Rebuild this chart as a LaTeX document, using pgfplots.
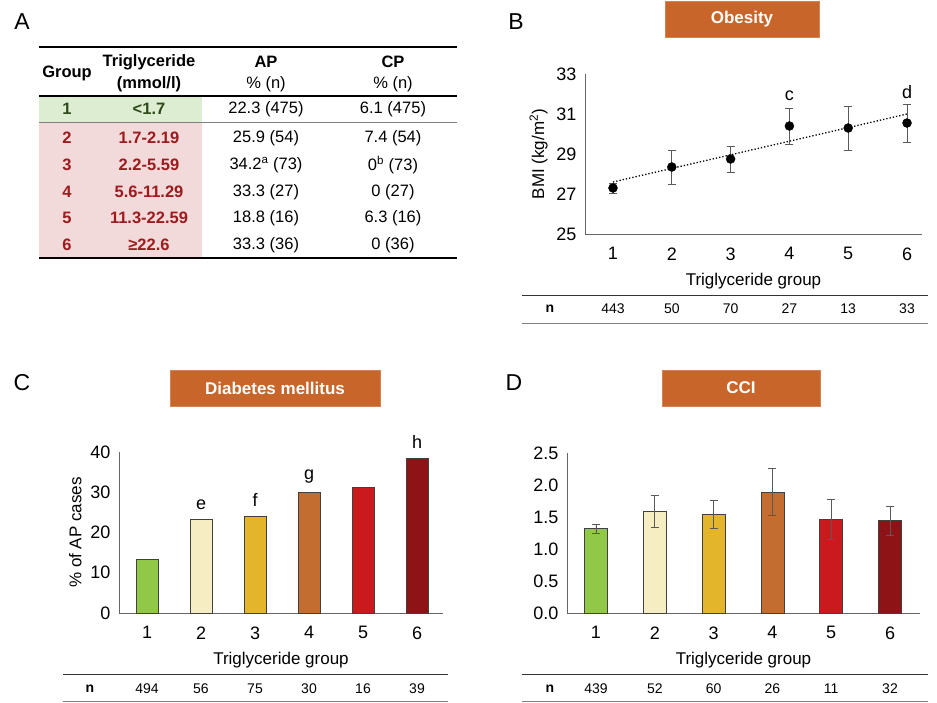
\documentclass[border=0pt]{standalone}
\usepackage{pgfplots}
\pgfplotsset{compat=1.18}
\usepackage{fontspec}
\setmainfont{Liberation Sans}
\definecolor{g1}{HTML}{92C848}
\definecolor{g2}{HTML}{F6EEC2}
\definecolor{g3}{HTML}{E3B52A}
\definecolor{g4}{HTML}{C46D31}
\definecolor{g5}{HTML}{CB1A1E}
\definecolor{g6}{HTML}{8E1316}
\definecolor{dred}{HTML}{9B1B1E}
\definecolor{dgreen}{HTML}{2E4A1A}
\definecolor{shg}{HTML}{DDEDD2}
\definecolor{shr}{HTML}{F2D9DA}
\definecolor{boxo}{HTML}{C8652A}
\pgfplotsset{
 common/.style={scale only axis, axis x line=bottom, axis y line=left,
  axis line style={draw=gray!80!black,line width=0.8pt,-}, major tick length=0pt,
  tick label style={font=\fontsize{18}{20}\selectfont},
  label style={font=\fontsize{17}{20}\selectfont},
  xticklabel style={yshift=-10pt}, yticklabel style={xshift=-5pt},
  /pgf/number format/assume math mode=true,
  xtick={1,...,6}, xlabel={Triglyceride group}, anchor=south west,
  xlabel style={yshift=-6pt}},
 ebar/.style={error bars/.cd, y dir=both, y explicit, error bar style={gray!70!black,line width=0.8pt}, error mark options={rotate=90,mark size=4pt,gray!70!black,line width=0.8pt}},
 bbar/.style={ybar, bar shift=0pt, draw=black!75, line width=0.8pt, fill=#1}
}
\begin{document}
\begin{tikzpicture}
\begin{scope}[x=1pt,y=-1pt]
\useasboundingbox (0,0) rectangle (937,702);
\tikzset{pl/.style={font=\fontsize{23}{25}\selectfont}}
\node[pl] at (22,22) {A};
\node[pl] at (516,22) {B};
\node[pl] at (22,383) {C};
\node[pl] at (514,383) {D};
% ---------- Table A
\fill[shg] (39,96) rectangle (202,122);
\fill[shr] (39,122) rectangle (202,258);
\draw[line width=1.2pt] (39,47) -- (457,47);
\draw[line width=1.2pt] (39,96) -- (457,96);
\draw[gray,line width=0.8pt] (39,122) -- (457,122);
\draw[line width=1.2pt] (39,258) -- (457,258);
\begin{scope}[every node/.style={font=\fontsize{16.5}{18}\selectfont}]
\tikzset{bf/.style={font=\fontsize{16.5}{18}\selectfont\bfseries}}
\node[bf] at (67,73) {Group};
\node[bf] at (149,62) {Triglyceride};
\node[bf] at (149,84) {(mmol/l)};
\node[bf] at (266,62) {AP};
\node at (266,84) {\% (n)};
\node[bf] at (393,62) {CP};
\node at (393,84) {\% (n)};
\node[bf,text=dgreen] at (67,109) {1};
\node[bf,text=dgreen] at (149,109) {<1.7};
\node at (266,109) {22.3 (475)};
\node at (393,109) {6.1 (475)};
\foreach \g/\t/\a/\c/\y in {2/1.7-2.19/25.9 (54)/7.4 (54)/138, 3/2.2-5.59/34.2\textsuperscript{a} (73)/0\textsuperscript{b} (73)/165, 4/5.6-11.29/33.3 (27)/0 (27)/192, 5/11.3-22.59/18.8 (16)/6.3 (16)/218, 6/≥22.6/33.3 (36)/0 (36)/245}{
 \node[bf,text=dred] at (67,\y) {\g};
 \node[bf,text=dred] at (149,\y) {\t};
 \node at (266,\y) {\a};
 \node at (393,\y) {\c};
}
\end{scope}
% ---------- title boxes
\tikzset{tb/.style={fill=boxo,draw=boxo!80!white,text=white,font=\fontsize{17}{19}\selectfont\bfseries,minimum height=36pt,inner sep=0pt}}
\node[tb,minimum width=154pt] at (742,19) {Obesity};
\node[tb,minimum width=210pt] at (275,388) {Diabetes mellitus};
\node[tb,minimum width=158pt] at (741,388) {CCI};
% ---------- n rows
\tikzset{nn/.style={font=\fontsize{14}{16}\selectfont}}
\draw[black!80,line width=0.8pt] (522,295) -- (928,295);
\draw[gray,line width=0.6pt] (522,323) -- (928,323);
\node[nn,font=\fontsize{14}{16}\selectfont\bfseries] at (550,309) {n};
\foreach \v [count=\i] in {443,50,70,27,13,33} \node[nn] at ({613+58.8*(\i-1)},309) {\v};
\draw[black!80,line width=0.8pt] (63,674) -- (448,674);
\draw[gray,line width=0.6pt] (63,701) -- (448,701);
\node[nn,font=\fontsize{14}{16}\selectfont\bfseries] at (90,689) {n};
\foreach \v [count=\i] in {494,56,75,30,16,39} \node[nn] at ({147+54*(\i-1)},689) {\v};
\draw[black!80,line width=0.8pt] (522,674) -- (928,674);
\draw[gray,line width=0.6pt] (522,701) -- (928,701);
\node[nn,font=\fontsize{14}{16}\selectfont\bfseries] at (550,689) {n};
\foreach \v [count=\i] in {439,52,60,26,11,32} \node[nn] at ({596+58.8*(\i-1)},689) {\v};
\end{scope}
% ---------- B
\begin{axis}[common, at={(585pt,-234pt)}, width=337pt, height=160pt,
 xmin=0.524, xmax=6.255, ymin=25, ymax=33, ytick={25,27,...,33},
 ylabel={BMI (kg/m\textsuperscript{2})}, ylabel style={yshift=2pt}, clip=false]
\addplot[black, dotted, line width=1.3pt] coordinates {(1,27.6) (6,31.0)};
\addplot[only marks, mark=*, mark size=4.5pt, black, ebar] coordinates {
 (1,27.3) +- (0,0.25)
 (2,28.35) +- (0,0.85)
 (3,28.75) +- (0,0.65)
 (4,30.4) +- (0,0.9)
 (5,30.3) +- (0,1.1)
 (6,30.55) +- (0,0.95)};
\node[font=\fontsize{18}{20}\selectfont] at (axis cs:4,31.9) {c};
\node[font=\fontsize{18}{20}\selectfont] at (axis cs:6,32.1) {d};
\end{axis}
% ---------- C
\begin{axis}[common, at={(119pt,-613pt)}, width=324pt, height=161pt,
 xmin=0.48, xmax=6.48, ymin=0, ymax=40, ytick={0,10,...,40},
 ylabel={\% of AP cases}, ylabel style={yshift=2pt}, clip=false, bar width=22pt]
\addplot[bbar=g1] coordinates {(1,13.3)};
\addplot[bbar=g2] coordinates {(2,23.2)};
\addplot[bbar=g3] coordinates {(3,23.9)};
\addplot[bbar=g4] coordinates {(4,30)};
\addplot[bbar=g5] coordinates {(5,31.2)};
\addplot[bbar=g6] coordinates {(6,38.5)};
\node[font=\fontsize{18}{20}\selectfont] at (axis cs:2,27) {e};
\node[font=\fontsize{18}{20}\selectfont] at (axis cs:3,28) {f};
\node[font=\fontsize{18}{20}\selectfont] at (axis cs:4,34) {g};
\node[font=\fontsize{18}{20}\selectfont] at (axis cs:6,42.5) {h};
\end{axis}
% ---------- D
\begin{axis}[common, at={(567pt,-613pt)}, width=353pt, height=160pt,
 xmin=0.507, xmax=6.51, ymin=0, ymax=2.5, ytick={0,0.5,...,2.5},
 yticklabel style={/pgf/number format/.cd,fixed,fixed zerofill,precision=1},
 bar width=23pt]
\addplot[bbar=g1, ebar] coordinates {(1,1.32) +- (0,0.07)};
\addplot[bbar=g2, ebar] coordinates {(2,1.58) +- (0,0.25)};
\addplot[bbar=g3, ebar] coordinates {(3,1.54) +- (0,0.22)};
\addplot[bbar=g4, ebar] coordinates {(4,1.89) +- (0,0.37)};
\addplot[bbar=g5, ebar] coordinates {(5,1.46) +- (0,0.31)};
\addplot[bbar=g6, ebar] coordinates {(6,1.44) +- (0,0.22)};
\end{axis}
\end{tikzpicture}
\end{document}
